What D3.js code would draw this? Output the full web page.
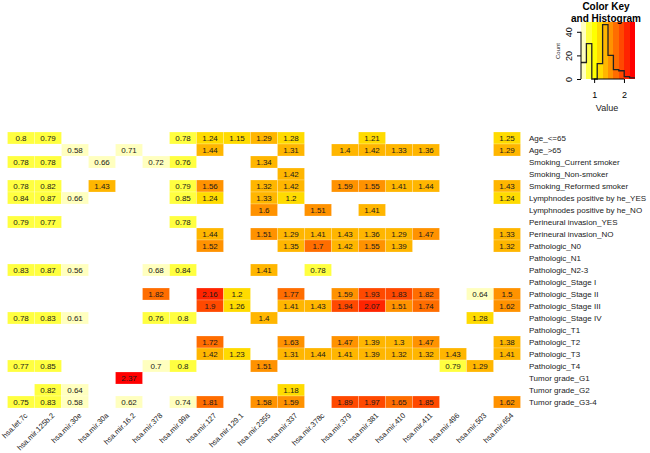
<!DOCTYPE html>
<html>
<head>
<meta charset="utf-8">
<script src="https://cdn.jsdelivr.net/npm/d3@7"></script>
<style>
  body { margin: 0; background: #fff; }
  svg { display: block; font-family: "Liberation Sans", Arial, sans-serif; }
</style>
</head>
<body>
<div class="chartContainer"></div>
<script>
// Data
var colLabels = ["hsa.let.7c", "hsa.mir.125b.2", "hsa.mir.30e", "hsa.mir.30a", "hsa.mir.16.2",
    "hsa.mir.378", "hsa.mir.99a", "hsa.mir.127", "hsa.mir.129.1", "hsa.mir.2355", "hsa.mir.337",
    "hsa.mir.378c", "hsa.mir.379", "hsa.mir.381", "hsa.mir.410", "hsa.mir.411", "hsa.mir.496",
    "hsa.mir.503", "hsa.mir.654"];

var rowLabels = ["Age_<=65", "Age_>65", "Smoking_Current smoker", "Smoking_Non-smoker",
    "Smoking_Reformed smoker", "Lymphnodes positive by he_YES", "Lymphnodes positive by he_NO",
    "Perineural invasion_YES", "Perineural invasion_NO", "Pathologic_N0", "Pathologic_N1",
    "Pathologic_N2-3", "Pathologic_Stage I", "Pathologic_Stage II", "Pathologic_Stage III",
    "Pathologic_Stage IV", "Pathologic_T1", "Pathologic_T2", "Pathologic_T3", "Pathologic_T4",
    "Tumor grade_G1", "Tumor grade_G2", "Tumor grade_G3-4"];

// one row per rowLabel, one entry per colLabel (null = blank cell)
var n = null;
var values = [
    [0.8, 0.79, n, n, n, n, 0.78, 1.24, 1.15, 1.29, 1.28, n, n, 1.21, n, n, n, n, 1.25],
    [n, n, 0.58, n, 0.71, n, n, 1.44, n, n, 1.31, n, 1.4, 1.42, 1.33, 1.36, n, n, 1.29],
    [0.78, 0.78, n, 0.66, n, 0.72, 0.76, n, n, 1.34, n, n, n, n, n, n, n, n, n],
    [n, n, n, n, n, n, n, n, n, n, 1.42, n, n, n, n, n, n, n, n],
    [0.78, 0.82, n, 1.43, n, n, 0.79, 1.56, n, 1.32, 1.42, n, 1.59, 1.55, 1.41, 1.44, n, n, 1.43],
    [0.84, 0.87, 0.66, n, n, n, 0.85, 1.24, n, 1.33, 1.2, n, n, n, n, n, n, n, 1.24],
    [n, n, n, n, n, n, n, n, n, 1.6, n, 1.51, n, 1.41, n, n, n, n, n],
    [0.79, 0.77, n, n, n, n, 0.78, n, n, n, n, n, n, n, n, n, n, n, n],
    [n, n, n, n, n, n, n, 1.44, n, 1.51, 1.29, 1.41, 1.43, 1.36, 1.29, 1.47, n, n, 1.33],
    [n, n, n, n, n, n, n, 1.52, n, n, 1.35, 1.7, 1.42, 1.55, 1.39, n, n, n, 1.32],
    [n, n, n, n, n, n, n, n, n, n, n, n, n, n, n, n, n, n, n],
    [0.83, 0.87, 0.56, n, n, 0.68, 0.84, n, n, 1.41, n, 0.78, n, n, n, n, n, n, n],
    [n, n, n, n, n, n, n, n, n, n, n, n, n, n, n, n, n, n, n],
    [n, n, n, n, n, 1.82, n, 2.16, 1.2, n, 1.77, n, 1.59, 1.93, 1.83, 1.82, n, 0.64, 1.5],
    [n, n, n, n, n, n, n, 1.9, 1.26, n, 1.41, 1.43, 1.94, 2.07, 1.51, 1.74, n, n, 1.62],
    [0.78, 0.83, 0.61, n, n, 0.76, 0.8, n, n, 1.4, n, n, n, n, n, n, n, 1.28, n],
    [n, n, n, n, n, n, n, n, n, n, n, n, n, n, n, n, n, n, n],
    [n, n, n, n, n, n, n, 1.72, n, n, 1.63, n, 1.47, 1.39, 1.3, 1.47, n, n, 1.38],
    [n, n, n, n, n, n, n, 1.42, 1.23, n, 1.31, 1.44, 1.41, 1.39, 1.32, 1.32, 1.43, n, 1.41],
    [0.77, 0.85, n, n, n, 0.7, 0.8, n, n, 1.51, n, n, n, n, n, n, 0.79, 1.29, n],
    [n, n, n, n, 2.37, n, n, n, n, n, n, n, n, n, n, n, n, n, n],
    [n, 0.82, 0.64, n, n, n, n, n, n, n, 1.18, n, n, n, n, n, n, n, n],
    [0.75, 0.83, 0.58, n, 0.62, n, 0.74, 1.81, n, 1.58, 1.59, n, 1.89, 1.97, 1.65, 1.85, n, n, 1.62]
];

// key axis ticks
var countTicks = [0, 20, 40];
var valueTicks = [1, 2];

// rev(heat.colors(10))
var palette = ["#FFFFBF", "#FFFF40", "#FFFF00", "#FFDB00", "#FFB600",
    "#FF9200", "#FF6D00", "#FF4900", "#FF2400", "#FF0000"];

var W = 650, H = 453;
var svg = d3.select(".chartContainer").append("svg").attr("width", W).attr("height", H);

// flatten to cells
var cells = [];
values.forEach(function (row, ri) {
    row.forEach(function (v, ci) {
        if (v !== null) cells.push({ row: rowLabels[ri], col: colLabels[ci], value: v });
    });
});

var x = d3.scaleBand().domain(colLabels).range([7.5, 520.5]);
var y = d3.scaleBand().domain(rowLabels).range([132, 408]);

var ext = d3.extent(cells, function (d) { return d.value; });
var breaks = d3.range(palette.length + 1).map(function (i) {
    return ext[0] + (ext[1] - ext[0]) * i / palette.length;
});
var color = d3.scaleThreshold().domain(breaks.slice(1, -1)).range(palette);

// Heatmap cells
svg.append("g").selectAll("rect").data(cells).enter().append("rect")
    .attr("x", function (d) { return x(d.col); })
    .attr("y", function (d) { return y(d.row); })
    .attr("width", x.bandwidth())
    .attr("height", y.bandwidth())
    .attr("fill", function (d) { return color(d.value); })
    .attr("stroke", "#fff")
    .attr("stroke-opacity", 0.35)
    .attr("stroke-width", 0.6);

svg.append("g").selectAll("text").data(cells).enter().append("text")
    .attr("x", function (d) { return x(d.col) + x.bandwidth() / 2; })
    .attr("y", function (d) { return y(d.row) + y.bandwidth() / 2; })
    .attr("dy", "0.35em")
    .attr("text-anchor", "middle")
    .attr("font-size", "8px")
    .attr("fill", "#1a1a1a")
    .text(function (d) { return d.value; });

// Row labels
svg.append("g").selectAll("text").data(rowLabels).enter().append("text")
    .attr("x", 529)
    .attr("y", function (d) { return y(d) + y.bandwidth() / 2; })
    .attr("dy", "0.35em")
    .attr("font-size", "8px")
    .attr("fill", "#222")
    .text(function (d) { return d; });

// Column labels
svg.append("g").selectAll("text").data(colLabels).enter().append("text")
    .attr("transform", function (d) {
        return "translate(" + (x(d) + x.bandwidth() / 2 + 7) + ",416) rotate(-45)";
    })
    .attr("text-anchor", "end")
    .attr("font-size", "7.5px")
    .attr("fill", "#222")
    .text(function (d) { return d; });

// Color key and histogram
var kx = d3.scaleLinear().domain(ext).range([581, 635]);
var bins = d3.bin().domain(ext).thresholds(breaks.slice(1, -1))(cells.map(function (d) { return d.value; }));
var counts = bins.map(function (b) { return b.length; });
var ky = d3.scaleLinear().domain([0, d3.max(counts) * 1.05]).range([79, 22]);

var key = svg.append("g");
key.selectAll("rect").data(palette).enter().append("rect")
    .attr("x", function (d, i) { return kx(breaks[i]); })
    .attr("y", ky.range()[1])
    .attr("width", function (d, i) { return kx(breaks[i + 1]) - kx(breaks[i]); })
    .attr("height", ky.range()[0] - ky.range()[1])
    .attr("fill", function (d) { return d; })
    .attr("shape-rendering", "crispEdges");

var stepPts = breaks.map(function (b, i) { return [b, counts[Math.min(i, counts.length - 1)]]; });
key.append("path")
    .attr("d", d3.line().x(function (d) { return kx(d[0]); }).y(function (d) { return ky(d[1]); })
        .curve(d3.curveStepAfter)(stepPts))
    .attr("fill", "none")
    .attr("stroke", "#222")
    .attr("stroke-width", 1.3);

var yAxis = key.append("g").attr("transform", "translate(581,0)")
    .call(d3.axisLeft(ky).tickValues(countTicks).tickSize(4).tickPadding(2));
yAxis.select(".domain").remove();
yAxis.append("line").attr("x1", 0).attr("x2", 0)
    .attr("y1", ky(countTicks[0])).attr("y2", ky(countTicks[countTicks.length - 1]))
    .attr("stroke", "#000");
yAxis.selectAll(".tick text")
    .attr("font-size", "9px").attr("font-family", "Liberation Sans, Arial, sans-serif").attr("fill", "#000")
    .attr("text-anchor", "middle").attr("dy", 0)
    .attr("transform", "rotate(-90)")
    .attr("x", 0).attr("y", -9);

var xAxis = key.append("g").attr("transform", "translate(0,79)")
    .call(d3.axisBottom(kx).tickValues(valueTicks).tickFormat(d3.format("d")).tickSize(4).tickPadding(9));
xAxis.select(".domain").remove();
xAxis.append("line").attr("y1", 0).attr("y2", 0)
    .attr("x1", kx(valueTicks[0])).attr("x2", kx(valueTicks[valueTicks.length - 1]))
    .attr("stroke", "#000");
xAxis.selectAll(".tick text").attr("font-size", "9px")
    .attr("font-family", "Liberation Sans, Arial, sans-serif").attr("fill", "#000");

key.append("text").attr("x", 607).attr("y", 111).attr("text-anchor", "middle")
    .attr("font-size", "9px").attr("fill", "#222").text("Value");
key.append("text").attr("transform", "translate(560,51) rotate(-90)").attr("text-anchor", "middle")
    .attr("font-size", "6px").attr("fill", "#222").text("Count");
key.append("text").attr("x", 606).attr("y", 10).attr("text-anchor", "middle")
    .attr("font-size", "10px").attr("font-weight", "bold").text("Color Key");
key.append("text").attr("x", 606).attr("y", 22).attr("text-anchor", "middle")
    .attr("font-size", "10px").attr("font-weight", "bold").text("and Histogram");
</script>
</body>
</html>
